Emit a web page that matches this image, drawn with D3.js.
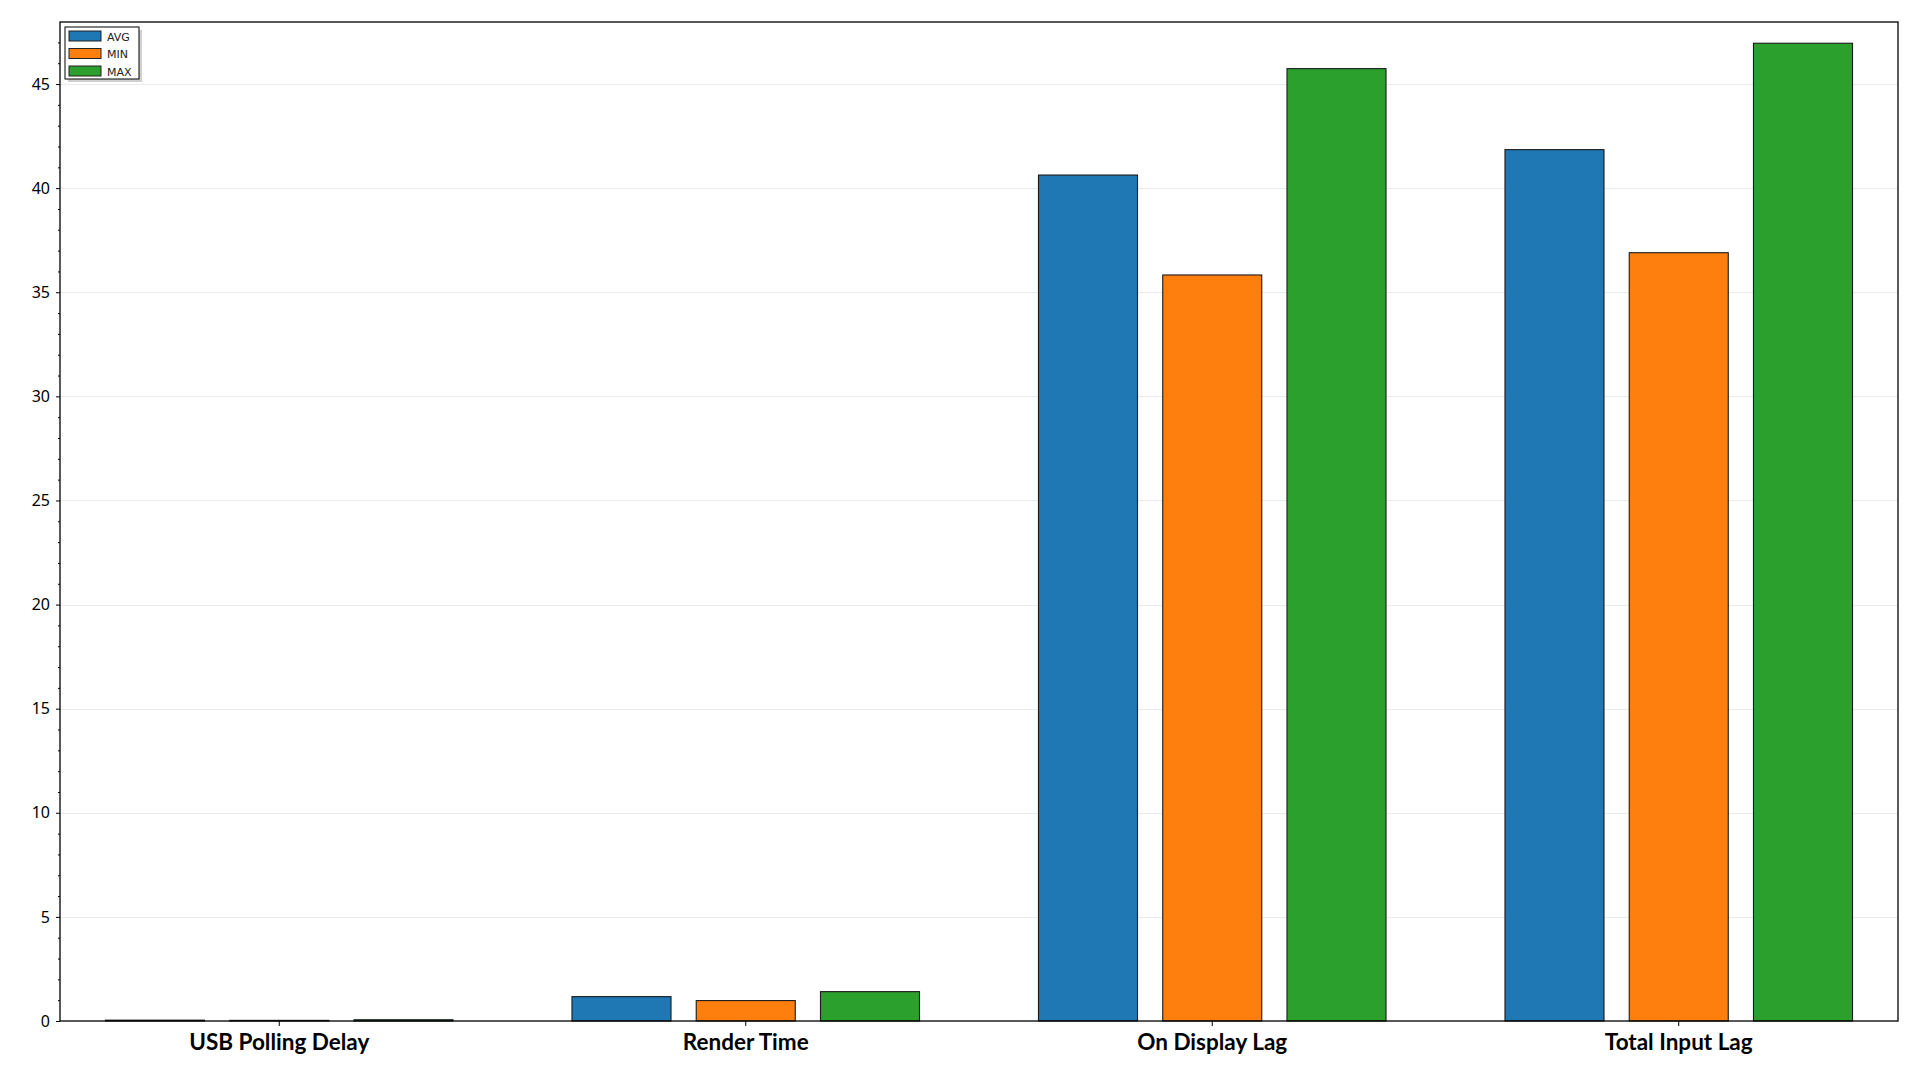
<!DOCTYPE html>
<html>
<head>
<meta charset="utf-8">
<script src="https://cdn.jsdelivr.net/npm/d3@7"></script>
<style>
html,body{margin:0;padding:0;background:#fff;}
svg{display:block;}
</style>
</head>
<body>
<svg id="chart" width="1920" height="1080"></svg>
<script>
const categories = ["USB Polling Delay", "Render Time", "On Display Lag", "Total Input Lag"];
const seriesNames = ["AVG", "MIN", "MAX"];
const avgValues = [0.04, 1.17, 40.63, 41.85];
const minValues = [0.03, 0.98, 35.83, 36.90];
const maxValues = [0.06, 1.41, 45.74, 46.96];
const seriesColors = ["#1f77b4", "#ff7f0e", "#2ca02c"];
const yMajorTicks = [0, 5, 10, 15, 20, 25, 30, 35, 40, 45];
const yMinorTicks = d3.range(0, 48, 1).filter(v => v % 5 !== 0);

const seriesValues = [avgValues, minValues, maxValues];

const svg = d3.select("#chart");
const L = 60, R = 1898, T = 22, B = 1021;

const x = d3.scaleBand().domain(categories).range([L, R]).paddingInner(0.255).paddingOuter(0.0975);
const xs = d3.scaleBand().domain(seriesNames).range([0, x.bandwidth()]).paddingInner(0.203).paddingOuter(0);
const y = d3.scaleLinear().domain([0, 47.98]).range([B, T]);

// gridlines
svg.append("g").selectAll("line").data(yMajorTicks.filter(d => d > 0)).join("line")
  .attr("x1", L).attr("x2", R)
  .attr("y1", d => Math.round(y(d)) + 0.5).attr("y2", d => Math.round(y(d)) + 0.5)
  .attr("stroke", "#ebebeb").attr("stroke-width", 1);

// bars
const groups = svg.append("g").selectAll("g").data(seriesNames).join("g")
  .attr("fill", (d, i) => seriesColors[i]);
groups.each(function(s, si) {
  d3.select(this).selectAll("rect").data(categories).join("rect")
    .attr("x", c => x(c) + xs(s))
    .attr("width", xs.bandwidth())
    .attr("y", (c, ci) => y(seriesValues[si][ci]))
    .attr("height", (c, ci) => B - y(seriesValues[si][ci]))
    .attr("stroke", "#1a1a1a").attr("stroke-width", 1.1);
});

// y axis
const yAxis = d3.axisLeft(y).tickValues(yMajorTicks).tickSize(4).tickPadding(6).tickFormat(d3.format("d"));
const gy = svg.append("g").attr("transform", `translate(${L},0)`).call(yAxis);
gy.select(".domain").remove();
gy.selectAll("text").attr("font-family", "'Noto Sans', sans-serif").attr("font-size", 16).attr("fill", "#000");
gy.selectAll("line").attr("stroke", "#000");
const yMinor = d3.axisLeft(y).tickValues(yMinorTicks).tickSize(2).tickFormat("");
const gym = svg.append("g").attr("transform", `translate(${L},0)`).call(yMinor);
gym.select(".domain").remove();
gym.selectAll("line").attr("stroke", "#000");

// x axis
const xAxis = d3.axisBottom(x).tickSize(5).tickPadding(8);
const gx = svg.append("g").attr("transform", `translate(0,${B})`).call(xAxis);
gx.select(".domain").remove();
gx.selectAll("line").attr("stroke", "#000");
gx.selectAll("text").attr("font-family", "Lato, sans-serif").attr("font-weight", "bold")
  .attr("font-size", 22.5).attr("fill", "#000");

// frame
svg.append("rect").attr("x", L).attr("y", T).attr("width", R - L).attr("height", B - T)
  .attr("fill", "none").attr("stroke", "#000").attr("stroke-width", 1.3);

// legend
const lg = svg.append("g").attr("transform", "translate(65,27)");
lg.append("rect").attr("x", 3).attr("y", 3).attr("width", 74).attr("height", 52).attr("fill", "#d0d0d0");
lg.append("rect").attr("x", 0).attr("y", 0).attr("width", 74).attr("height", 52)
  .attr("fill", "#fff").attr("stroke", "#000").attr("stroke-width", 1);
const items = lg.selectAll("g.item").data(seriesNames).join("g").attr("class", "item")
  .attr("transform", (d, i) => `translate(4,${4 + i * 17.5})`);
items.append("rect").attr("width", 32).attr("height", 10)
  .attr("fill", (d, i) => seriesColors[i]).attr("stroke", "#222").attr("stroke-width", 1);
items.append("text").attr("x", 38).attr("y", 9.5).text(d => d)
  .attr("font-family", "'DejaVu Sans', sans-serif").attr("font-size", 11).attr("fill", "#222");
</script>
</body>
</html>
